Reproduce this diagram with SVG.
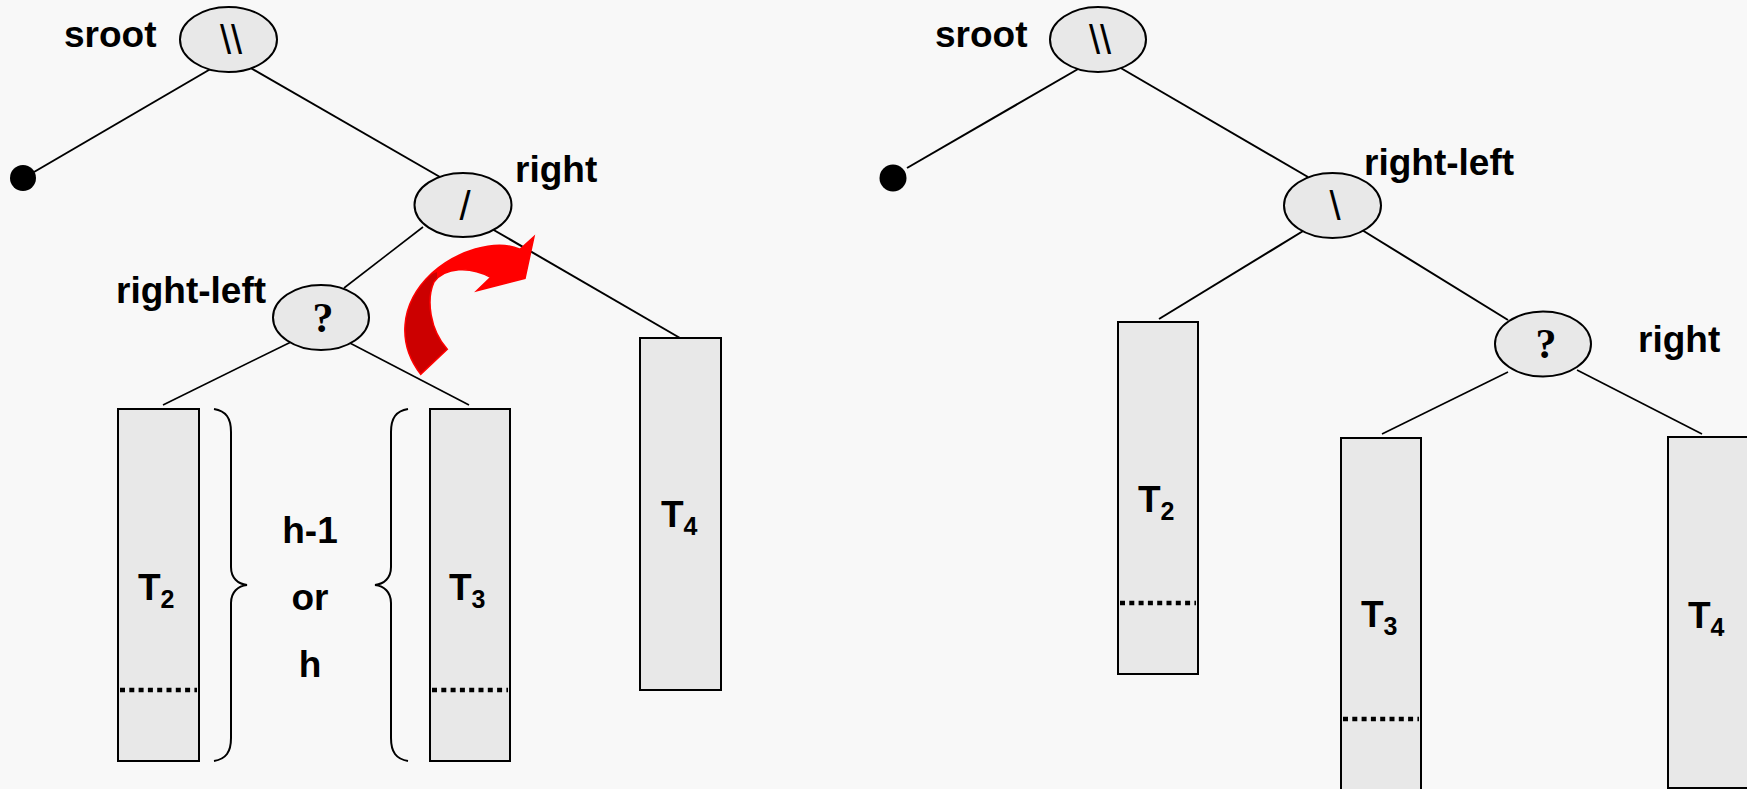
<svg xmlns="http://www.w3.org/2000/svg" width="1747" height="789" viewBox="0 0 1747 789">
<style>
.lbl{font-family:"Liberation Sans",Arial,sans-serif;font-weight:bold;font-size:37px;fill:#000}
.sub{font-size:25px}
.sym{font-family:"Liberation Sans",Arial,sans-serif;font-size:40px;fill:#000;text-anchor:middle}
.q{font-family:"Liberation Serif","Times New Roman",serif;font-weight:bold;font-size:42px;fill:#000;text-anchor:middle}
.node{fill:#e8e8e8;stroke:#000;stroke-width:2}
.sub-tree{fill:#e8e8e8;stroke:#000;stroke-width:2}
.dots{stroke:#000;stroke-width:4.5;stroke-dasharray:5 4.3;fill:none}
.edge{stroke:#000;stroke-width:2;fill:none}
.edge2{stroke:#000;stroke-width:1.6;fill:none}
.brace{stroke:#000;stroke-width:2;fill:none}
</style>
<defs>
<path id="arrowShape" d="M534,236.7 L525,278.3 L476.7,290.7 L490.7,277.3 C470,266 445,267 434,282 C426,300 430,330 447.3,349.3 L420.7,374.3 C398,345 398,305 431.7,273.3 C455,252 495,238 520,249.3 Z"/>
<clipPath id="darkClip"><polygon points="370,299 437,272 437,280 460,300 460,400 370,400"/></clipPath>
</defs>
<rect x="0" y="0" width="1747" height="789" fill="#f8f8f8"/>

<g id="connectors">
<line class="edge" x1="34" y1="172" x2="214" y2="67"/>
<line class="edge" x1="249" y1="67" x2="440" y2="177"/>
<line class="edge2" x1="423" y1="227" x2="344" y2="288"/>
<line class="edge" x1="492" y1="229" x2="680" y2="338"/>
<line class="edge2" x1="291" y1="342" x2="163" y2="405"/>
<line class="edge2" x1="346" y1="341" x2="469" y2="405"/>
<line class="edge" x1="907" y1="168" x2="1085" y2="65"/>
<line class="edge" x1="1119" y1="67" x2="1308" y2="177"/>
<line class="edge" x1="1308" y1="228" x2="1159" y2="319"/>
<line class="edge" x1="1362" y1="230" x2="1508" y2="320"/>
<line class="edge2" x1="1508" y1="372" x2="1382" y2="434"/>
<line class="edge2" x1="1577" y1="370" x2="1702" y2="434"/>
</g>

<!-- Left tree -->
<g id="L-null"><circle cx="23" cy="178" r="13" fill="#000"/></g>
<g id="L-root">
<ellipse class="node" cx="228.5" cy="39.5" rx="48.5" ry="32.5"/>
<text class="sym" x="231" y="54">\\</text>
<text class="lbl" x="64" y="47">sroot</text>
</g>
<g id="L-right">
<ellipse class="node" cx="463" cy="205" rx="48.5" ry="32"/>
<text class="sym" x="465" y="220">/</text>
<text class="lbl" x="515" y="182">right</text>
</g>
<g id="L-rightleft">
<ellipse class="node" cx="321" cy="317.5" rx="48" ry="32.5"/>
<text class="q" x="323" y="332">?</text>
<text class="lbl" x="116" y="303">right-left</text>
</g>
<g id="L-T2">
<rect class="sub-tree" x="118" y="409" width="81" height="352"/>
<line class="dots" x1="120" y1="690" x2="197" y2="690"/>
<text class="lbl" x="138" y="600">T<tspan class="sub" dy="8">2</tspan></text>
</g>
<g id="L-T3">
<rect class="sub-tree" x="430" y="409" width="80" height="352"/>
<line class="dots" x1="432" y1="690" x2="508" y2="690"/>
<text class="lbl" x="449" y="600">T<tspan class="sub" dy="8">3</tspan></text>
</g>
<g id="L-T4">
<rect class="sub-tree" x="640" y="338" width="81" height="352"/>
<text class="lbl" x="661" y="527">T<tspan class="sub" dy="8">4</tspan></text>
</g>
<g id="L-height">
<path class="brace" d="M214,409 C226,411 231,418 231,432 L231,567 C231,578 238,584 247,585 C238,586 231,592 231,603 L231,738 C231,752 226,759 214,761"/>
<path class="brace" d="M408,409 C396,411 391,418 391,432 L391,567 C391,578 384,584 375,585 C384,586 391,592 391,603 L391,738 C391,752 396,759 408,761"/>
<text class="lbl" x="310" y="543" text-anchor="middle">h-1</text>
<text class="lbl" x="310" y="610" text-anchor="middle">or</text>
<text class="lbl" x="310" y="677" text-anchor="middle">h</text>
</g>
<g id="rotation-arrow">
<use href="#arrowShape" fill="#ff0000"/>
<use href="#arrowShape" fill="#cc0000" clip-path="url(#darkClip)"/>
<use href="#arrowShape" fill="none" stroke="#ff0000" stroke-width="1.5"/>
</g>

<!-- Right tree -->
<g id="R-null"><circle cx="893" cy="178" r="13.5" fill="#000"/></g>
<g id="R-root">
<ellipse class="node" cx="1098" cy="39.5" rx="48" ry="32.5"/>
<text class="sym" x="1100" y="54">\\</text>
<text class="lbl" x="935" y="47">sroot</text>
</g>
<g id="R-rightleft">
<ellipse class="node" cx="1332.5" cy="205.5" rx="48.5" ry="32.5"/>
<text class="sym" x="1335" y="220">\</text>
<text class="lbl" x="1364" y="175">right-left</text>
</g>
<g id="R-right">
<ellipse class="node" cx="1543" cy="344" rx="48" ry="32.5"/>
<text class="q" x="1546" y="358">?</text>
<text class="lbl" x="1638" y="352">right</text>
</g>
<g id="R-T2">
<rect class="sub-tree" x="1118" y="322" width="80" height="352"/>
<line class="dots" x1="1120" y1="603" x2="1196" y2="603"/>
<text class="lbl" x="1138" y="512">T<tspan class="sub" dy="8">2</tspan></text>
</g>
<g id="R-T3">
<rect class="sub-tree" x="1341" y="438" width="80" height="352"/>
<line class="dots" x1="1343" y1="719" x2="1419" y2="719"/>
<text class="lbl" x="1361" y="627">T<tspan class="sub" dy="8">3</tspan></text>
</g>
<g id="R-T4">
<rect class="sub-tree" x="1668" y="437" width="90" height="351"/>
<text class="lbl" x="1688" y="628">T<tspan class="sub" dy="8">4</tspan></text>
</g>
</svg>
